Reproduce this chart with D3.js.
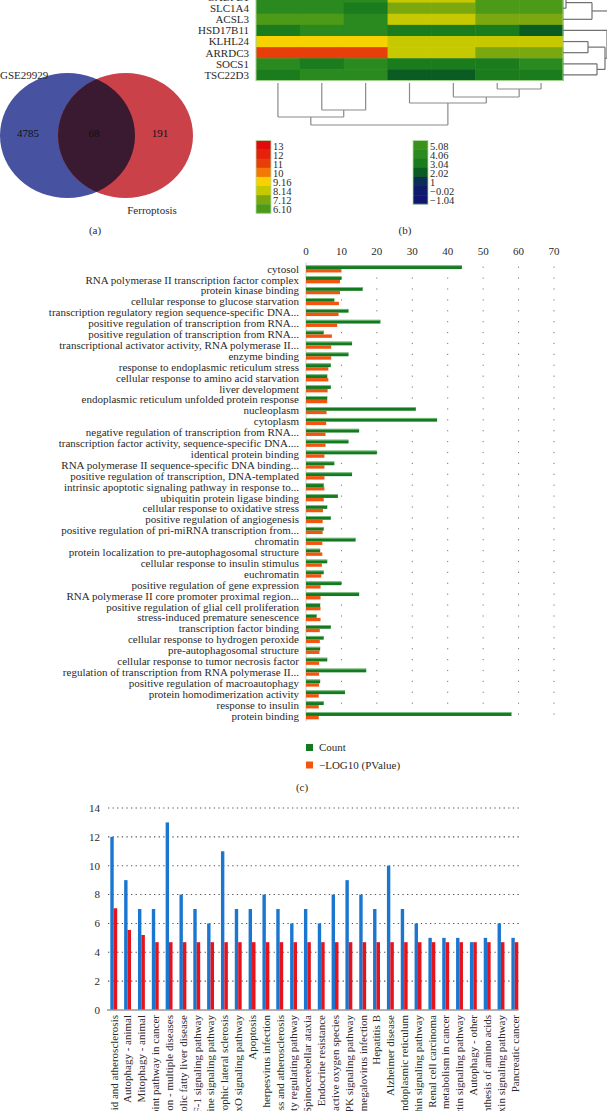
<!DOCTYPE html>
<html><head><meta charset="utf-8">
<script src="https://cdnjs.cloudflare.com/ajax/libs/d3/7.8.5/d3.min.js"></script>
<style>
body{margin:0;background:#fff}
svg{display:block}
text{font-family:"Liberation Serif","DejaVu Serif",serif;fill:#2a2a2a}
</style>
</head><body>
<svg id="c" width="607" height="1111"></svg>
<script>
// ---------------- DATA ----------------
// (a) Venn
const vennSets = ["GSE29929", "Ferroptosis"];
const vennCounts = [4785, 68, 191]; // only A, both, only B

// (b) heatmap
const heatGenes = ["GABPB1", "SLC1A4", "ACSL3", "HSD17B11", "KLHL24", "ARRDC3", "SOCS1", "TSC22D3"];
const heatSamples = ["S1", "S2", "S3", "S4", "S5", "S6", "S7"];
const heatValues = [
  [4.06, 4.06, 4.06, 8.14, 8.14, 6.10, 6.10],
  [4.06, 4.06, 3.04, 7.12, 7.12, 6.10, 6.10],
  [6.10, 6.10, 4.06, 8.14, 8.14, 7.12, 7.12],
  [3.04, 4.06, 4.06, 3.04, 3.04, 3.04, 2.02],
  [9.16, 9.16, 9.16, 8.14, 8.14, 8.14, 8.14],
  [11, 11, 11, 8.14, 8.14, 7.12, 7.12],
  [4.06, 3.04, 4.06, 3.04, 3.04, 3.04, 4.06],
  [3.04, 4.06, 4.06, 2.02, 2.02, 3.04, 3.04]
];
const legendHighVals = [13, 12, 11, 10, 9.16, 8.14, 7.12, 6.10];
const legendHighLabels = ["13", "12", "11", "10", "9.16", "8.14", "7.12", "6.10"];
const legendHighColors = ["#e20a0a", "#e5200b", "#e83e0a", "#f37806", "#f7d200", "#c6c800", "#7ca80f", "#4c9a18"];
const legendLowVals = [5.08, 4.06, 3.04, 2.02, 1, -0.02, -1.04];
const legendLowLabels = ["5.08", "4.06", "3.04", "2.02", "1", "\u22120.02", "\u22121.04"];
const legendLowColors = ["#3a921c", "#2b8a1f", "#1b7c1e", "#0a5c22", "#0b2d56", "#0f1b6a", "#101570"];
// dendrograms: leaf indices with merge heights
const colTree = {h: 4.2, c: [{h: 3.4, c: [0, {h: 2.7, c: [1, 2]}]}, {h: 2.0, c: [3, {h: 1.4, c: [4, {h: 0.6, c: [5, 6]}]}]}]};
const rowTree = {h: 5.5, c: [{h: 2.9, c: [{h: 0.3, c: [0, 1]}, 2]}, {h: 4.4, c: [3, {h: 4.2, c: [{h: 2.5, c: [4, 5]}, {h: 3.4, c: [6, 7]}]}]}]};

// (c) GO enrichment
const goTerms = [
  "cytosol",
  "RNA polymerase II transcription factor complex",
  "protein kinase binding",
  "cellular response to glucose starvation",
  "transcription regulatory region sequence-specific DNA...",
  "positive regulation of transcription from RNA...",
  "positive regulation of transcription from RNA...",
  "transcriptional activator activity, RNA polymerase II...",
  "enzyme binding",
  "response to endoplasmic reticulum stress",
  "cellular response to amino acid starvation",
  "liver development",
  "endoplasmic reticulum unfolded protein response",
  "nucleoplasm",
  "cytoplasm",
  "negative regulation of transcription from RNA...",
  "transcription factor activity, sequence-specific DNA....",
  "identical protein binding",
  "RNA polymerase II sequence-specific DNA binding...",
  "positive regulation of transcription, DNA-templated",
  "intrinsic apoptotic signaling pathway in response to...",
  "ubiquitin protein ligase binding",
  "cellular response to oxidative stress",
  "positive regulation of angiogenesis",
  "positive regulation of pri-miRNA transcription from...",
  "chromatin",
  "protein localization to pre-autophagosomal structure",
  "cellular response to insulin stimulus",
  "euchromatin",
  "positive regulation of gene expression",
  "RNA polymerase II core promoter proximal region...",
  "positive regulation of glial cell proliferation",
  "stress-induced premature senescence",
  "transcription factor binding",
  "cellular response to hydrogen peroxide",
  "pre-autophagosomal structure",
  "cellular response to tumor necrosis factor",
  "regulation of transcription from RNA polymerase II...",
  "positive regulation of macroautophagy",
  "protein homodimerization activity",
  "response to insulin",
  "protein binding"
];
const goCount = [44, 10, 16, 8, 12, 21, 5, 13, 12, 7, 6, 7, 6, 31, 37, 15, 12, 20, 8, 13, 5, 9, 6, 7, 5, 14, 4, 6, 5, 10, 15, 4, 3, 7, 5, 4, 6, 17, 4, 11, 5, 58];
const goLogP = [10.0, 9.6, 9.6, 9.3, 9.2, 8.8, 7.3, 7.1, 7.1, 6.3, 6.3, 6.1, 6.0, 5.8, 5.7, 5.5, 5.5, 5.2, 5.2, 5.2, 5.2, 5.0, 4.8, 4.7, 4.7, 4.6, 4.6, 4.5, 4.3, 4.1, 4.1, 4.1, 4.1, 3.9, 3.9, 3.8, 3.7, 3.7, 3.7, 3.6, 3.6, 3.6];
const goTicks = [0, 10, 20, 30, 40, 50, 60, 70];
const goLegend = ["Count", "\u2212LOG10 (PValue)"];

// (d) KEGG enrichment
const keggTerms = [
  "Lipid and atherosclerosis",
  "Autophagy - animal",
  "Mitophagy - animal",
  "PD-L1 expression and PD-1 checkpoint pathway in cancer",
  "Pathways of neurodegeneration - multiple diseases",
  "Non-alcoholic fatty liver disease",
  "HIF-1 signaling pathway",
  "Adipocytokine signaling pathway",
  "Amyotrophic lateral sclerosis",
  "FoxO signaling pathway",
  "Apoptosis",
  "Kaposi sarcoma-associated herpesvirus infection",
  "Fluid shear stress and atherosclerosis",
  "Longevity regulating pathway",
  "Spinocerebellar ataxia",
  "Endocrine resistance",
  "Chemical carcinogenesis - reactive oxygen species",
  "MAPK signaling pathway",
  "Human cytomegalovirus infection",
  "Hepatitis B",
  "Alzheimer disease",
  "Protein processing in endoplasmic reticulum",
  "Neurotrophin signaling pathway",
  "Renal cell carcinoma",
  "Central carbon metabolism in cancer",
  "Prolactin signaling pathway",
  "Autophagy - other",
  "Biosynthesis of amino acids",
  "Relaxin signaling pathway",
  "Pancreatic cancer"
];
const keggCount = [12, 9, 7, 7, 13, 8, 7, 6, 11, 7, 7, 8, 7, 6, 7, 6, 8, 9, 8, 7, 10, 7, 6, 5, 5, 5, 4.7, 5, 6, 5];
const keggLogP = [7.05, 5.55, 5.2, 4.7, 4.7, 4.7, 4.7, 4.7, 4.7, 4.7, 4.7, 4.7, 4.7, 4.7, 4.7, 4.7, 4.7, 4.7, 4.7, 4.7, 4.7, 4.7, 4.7, 4.7, 4.7, 4.7, 4.7, 4.7, 4.7, 4.7];
const keggTicks = [0, 2, 4, 6, 8, 10, 12, 14];

// ---------------- DRAW ----------------
const svg = d3.select("#c");
const FS = 11;

// ===== (a) Venn =====
(function () {
  const g = svg.append("g");
  const ry = 62.5, rx = 67.5, cy = 135.5;
  const xs = d3.scalePoint().domain(vennSets).range([67.5, 125.5]);
  const defs = svg.append("defs");
  defs.append("clipPath").attr("id", "clipA").append("ellipse")
    .attr("cx", xs(vennSets[0])).attr("cy", cy).attr("rx", rx).attr("ry", ry);
  g.append("ellipse").attr("cx", xs(vennSets[0])).attr("cy", cy).attr("rx", rx).attr("ry", ry).attr("fill", "#4753a1");
  g.append("ellipse").attr("cx", xs(vennSets[1])).attr("cy", cy).attr("rx", rx).attr("ry", ry).attr("fill", "#ca4149");
  g.append("ellipse").attr("cx", xs(vennSets[1])).attr("cy", cy).attr("rx", rx).attr("ry", ry)
    .attr("fill", "#3a1a30").attr("clip-path", "url(#clipA)");
  const tx = [28, 94, 160];
  vennCounts.forEach((v, i) => {
    g.append("text").attr("x", tx[i]).attr("y", 133).attr("dy", "0.35em").attr("text-anchor", "middle")
      .style("font-size", FS + "px").style("fill", "#111").text(v);
  });
  g.append("text").attr("x", 0).attr("y", 75).attr("dy", "0.35em").style("font-size", FS + "px").text(vennSets[0]);
  g.append("text").attr("x", 152).attr("y", 210).attr("dy", "0.35em").attr("text-anchor", "middle").style("font-size", FS + "px").text(vennSets[1]);
  g.append("text").attr("x", 95).attr("y", 230).attr("dy", "0.35em").attr("text-anchor", "middle").style("font-size", FS + "px").text("(a)");
})();

// ===== (b) Heatmap =====
(function () {
  const g = svg.append("g");
  const allVals = legendHighVals.concat(legendLowVals);
  const allCols = legendHighColors.concat(legendLowColors);
  const color = d3.scaleOrdinal().domain(allVals).range(allCols);
  const x = d3.scaleBand().domain(d3.range(heatSamples.length)).range([256, 563]);
  const y = d3.scaleBand().domain(d3.range(heatGenes.length)).range([-8.5, 80.5]);
  heatValues.forEach((row, r) => {
    row.forEach((v, c) => {
      g.append("rect").attr("x", x(c)).attr("y", y(r)).attr("width", x.bandwidth() + 0.5).attr("height", y.bandwidth() + 0.5)
        .attr("fill", color(v));
    });
  });
  g.append("rect").attr("x", 256).attr("y", y(0)).attr("width", 307).attr("height", 89)
    .attr("fill", "none").attr("stroke", "#9fd08a").attr("stroke-width", 1);
  heatGenes.forEach((gname, r) => {
    g.append("text").attr("x", 249).attr("y", y(r) + y.bandwidth() / 2).attr("dy", "0.35em").attr("text-anchor", "end")
      .style("font-size", FS + "px").text(gname);
  });

  // column dendrogram
  const hy = d3.scaleLinear().domain([0, 1]).range([83, 93]);
  function drawCol(node) {
    if (typeof node === "number") return {p: x(node) + x.bandwidth() / 2, h: 0};
    const kids = node.c.map(drawCol);
    kids.forEach(k => {
      g.append("line").attr("x1", k.p).attr("x2", k.p).attr("y1", hy(k.h)).attr("y2", hy(node.h))
        .attr("stroke", "#8a8a8a").attr("stroke-width", 1.2);
    });
    g.append("line").attr("x1", kids[0].p).attr("x2", kids[kids.length - 1].p).attr("y1", hy(node.h)).attr("y2", hy(node.h))
      .attr("stroke", "#8a8a8a").attr("stroke-width", 1.2);
    return {p: d3.mean(kids, k => k.p), h: node.h};
  }
  drawCol(colTree);

  // row dendrogram
  const hx = d3.scaleLinear().domain([0, 1]).range([563, 573]);
  function drawRow(node) {
    if (typeof node === "number") return {p: y(node) + y.bandwidth() / 2, h: 0};
    const kids = node.c.map(drawRow);
    kids.forEach(k => {
      g.append("line").attr("y1", k.p).attr("y2", k.p).attr("x1", hx(k.h)).attr("x2", hx(node.h))
        .attr("stroke", "#707070").attr("stroke-width", 1.2);
    });
    g.append("line").attr("y1", kids[0].p).attr("y2", kids[kids.length - 1].p).attr("x1", hx(node.h)).attr("x2", hx(node.h))
      .attr("stroke", "#707070").attr("stroke-width", 1.2);
    return {p: d3.mean(kids, k => k.p), h: node.h};
  }
  drawRow(rowTree);

  // legends
  function legend(vals, labels, cols, x0, y0, h) {
    const ly = d3.scaleBand().domain(d3.range(vals.length)).range([y0, y0 + h * vals.length]);
    vals.forEach((v, i) => {
      g.append("rect").attr("x", x0).attr("y", ly(i)).attr("width", 15).attr("height", ly.bandwidth() + 0.3).attr("fill", cols[i]);
      g.append("text").attr("x", x0 + 17).attr("y", ly(i) + ly.bandwidth() / 2 + 1).attr("dy", "0.35em")
        .style("font-size", "10.5px").text(labels[i]);
    });
    g.append("rect").attr("x", x0).attr("y", y0).attr("width", 15).attr("height", h * vals.length)
      .attr("fill", "none").attr("stroke", "#b5dcaa").attr("stroke-width", 0.8);
  }
  legend(legendHighVals, legendHighLabels, legendHighColors, 256, 140.5, 9.1);
  legend(legendLowVals, legendLowLabels, legendLowColors, 413, 140.5, 9.1);
  g.append("text").attr("x", 405).attr("y", 230).attr("dy", "0.35em").attr("text-anchor", "middle").style("font-size", FS + "px").text("(b)");
})();

// ===== (c) GO bar chart =====
(function () {
  const g = svg.append("g");
  const x = d3.scaleLinear().domain([0, 70]).range([306, 554]);
  const y = d3.scaleBand().domain(d3.range(goTerms.length)).range([263.6, 263.6 + 10.9 * goTerms.length]);
  const top = y.range()[0], bot = y.range()[1];
  // grid
  goTicks.slice(1).forEach(t => {
    g.append("line").attr("x1", x(t)).attr("x2", x(t)).attr("y1", top + 3).attr("y2", bot)
      .attr("stroke", "#777").attr("stroke-width", 1).attr("stroke-dasharray", "1.2,9.7");
  });
  g.append("line").attr("x1", x(0)).attr("x2", x(0)).attr("y1", top - 1).attr("y2", bot)
    .attr("stroke", "#c8c8c8").attr("stroke-width", 1);
  goTicks.forEach(t => {
    g.append("text").attr("x", x(t)).attr("y", 251).attr("dy", "0.35em").attr("text-anchor", "middle")
      .style("font-size", FS + "px").text(t);
  });
  goTerms.forEach((term, i) => {
    const c = y(i) + y.bandwidth() / 2;
    g.append("rect").attr("x", x(0)).attr("y", c - 3.7).attr("width", x(goCount[i]) - x(0)).attr("height", 3.7).attr("fill", "#137a1f");
    g.append("rect").attr("x", x(0)).attr("y", c - 3.7).attr("width", x(goCount[i]) - x(0)).attr("height", 0.8).attr("fill", "#8cc88f");
    g.append("rect").attr("x", x(0)).attr("y", c).attr("width", x(goLogP[i]) - x(0)).attr("height", 3.4).attr("fill", "#f0560f");
    g.append("text").attr("x", 299).attr("y", c).attr("dy", "0.33em").attr("text-anchor", "end")
      .style("font-size", FS + "px").text(term);
  });
  const lc = ["#137a1f", "#f0560f"];
  goLegend.forEach((l, i) => {
    const ly = 747.5 + i * 17.5;
    g.append("rect").attr("x", 306).attr("y", ly - 3.5).attr("width", 7).attr("height", 7).attr("fill", lc[i]);
    g.append("text").attr("x", 319).attr("y", ly).attr("dy", "0.35em").style("font-size", FS + "px").text(l);
  });
  g.append("text").attr("x", 302).attr("y", 787).attr("dy", "0.35em").attr("text-anchor", "middle").style("font-size", FS + "px").text("(c)");
})();

// ===== (d) KEGG bar chart =====
(function () {
  const g = svg.append("g");
  const y = d3.scaleLinear().domain([0, 14]).range([1010, 808]);
  const x = d3.scaleBand().domain(d3.range(keggTerms.length)).range([106.8, 106.8 + 13.83 * keggTerms.length]);
  keggTicks.slice(1).forEach(t => {
    g.append("line").attr("x1", 108).attr("x2", 520).attr("y1", y(t)).attr("y2", y(t))
      .attr("stroke", "#555").attr("stroke-width", 1.1).attr("stroke-dasharray", "1.3,3.3");
  });
  keggTicks.forEach(t => {
    g.append("text").attr("x", 100).attr("y", y(t)).attr("dy", "0.35em").attr("text-anchor", "end")
      .style("font-size", FS + "px").text(t);
  });
  keggTerms.forEach((term, i) => {
    const c = x(i) + x.bandwidth() / 2;
    g.append("rect").attr("x", c - 3.4).attr("y", y(keggCount[i])).attr("width", 3.4).attr("height", y(0) - y(keggCount[i])).attr("fill", "#1b76d0");
    g.append("rect").attr("x", c).attr("y", y(keggLogP[i])).attr("width", 3.5).attr("height", y(0) - y(keggLogP[i])).attr("fill", "#e5141c");
    g.append("text").attr("transform", `translate(${c},1015) rotate(-90)`).attr("dy", "0.35em").attr("text-anchor", "end")
      .style("font-size", FS + "px").text(term);
  });
  g.append("line").attr("x1", 107).attr("x2", 518.5).attr("y1", y(0)).attr("y2", y(0)).attr("stroke", "#999").attr("stroke-width", 1.5);
})();
</script>
</body></html>
